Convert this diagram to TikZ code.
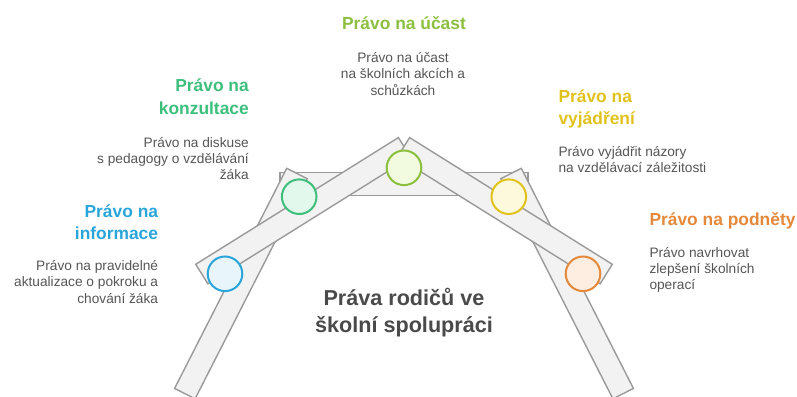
\documentclass[tikz,border=0pt]{standalone}
\usepackage{fontspec}
\setmainfont{Liberation Sans}
\definecolor{beamfill}{HTML}{F2F2F2}
\definecolor{beamline}{HTML}{9A9A9A}
\definecolor{cblue}{HTML}{2AA5DA}
\definecolor{cgreen}{HTML}{3DBF7C}
\definecolor{clime}{HTML}{8CBF3F}
\definecolor{cyellow}{HTML}{E1C21C}
\definecolor{corange}{HTML}{E4883A}
\definecolor{fblue}{HTML}{E8F6FC}
\definecolor{fgreen}{HTML}{E3F8EC}
\definecolor{flime}{HTML}{F2FBE0}
\definecolor{fyellow}{HTML}{FDF9DC}
\definecolor{forange}{HTML}{FDEEE1}
\definecolor{bodygray}{HTML}{555555}
\definecolor{titlegray}{HTML}{4A4A4A}
\tikzset{
  beam/.style={fill=beamfill, draw=beamline, line width=1.4pt, line join=miter},
  dot/.style={circle, minimum size=34.6pt, inner sep=0pt, line width=2pt},
  ttl/.style={font=\fontsize{17.4}{22.5}\selectfont\bfseries, inner sep=0pt},
  body/.style={font=\fontsize{13.7}{16.3}\selectfont, text=bodygray, inner sep=0pt},
}
\begin{document}
\begin{tikzpicture}[x=1pt,y=-1pt]
\useasboundingbox (0,0) rectangle (797,396);
% horizontal beam
\draw[beam] (280,172.5) rectangle (528,195.7);
% steep legs
\draw[beam] (286.7,168.3) -- (307.2,178.7) -- (195.1,398.8) -- (174.6,388.4) -- cycle;
\draw[beam] (521.3,168.3) -- (500.8,178.7) -- (612.9,398.8) -- (633.4,388.4) -- cycle;
% shallow beams
\draw[beam] (195.7,264.3) -- (398.4,137.6) -- (410.6,157.1) -- (207.9,283.8) -- cycle;
\draw[beam] (612.3,264.3) -- (409.6,137.6) -- (397.4,157.1) -- (600.1,283.8) -- cycle;
% circles
\node[dot, draw=cblue, fill=fblue] (cinfo) at (225,273.8) {};
\node[dot, draw=cgreen, fill=fgreen] (ckonz) at (299.2,196.7) {};
\node[dot, draw=clime, fill=flime] (cucast) at (404,167.8) {};
\node[dot, draw=cyellow, fill=fyellow] (cvyj) at (508.8,196.7) {};
\node[dot, draw=corange, fill=forange] (cpodn) at (583,273.8) {};
% center title
\node[font=\fontsize{21.6}{27.7}\selectfont\bfseries, text=titlegray, align=center, inner sep=0pt] (main) at (404,312.5) {Práva rodičů ve\\školní spolupráci};
% titles
\node[ttl, text=cblue, anchor=east, align=right] (tinfo) at (158.3,222) {Právo na\\informace};
\node[ttl, text=cgreen, anchor=east, align=right] (tkonz) at (249,96.7) {Právo na\\konzultace};
\node[ttl, text=clime] (tucast) at (404,22.7) {Právo na účast};
\node[ttl, text=cyellow, anchor=west, align=left] (tvyj) at (558.3,109) {Právo na\\vyjádření};
\node[ttl, text=corange, anchor=west] (tpodn) at (649.3,220.7) {Právo na podněty};
% bodies
\node[body, anchor=east, align=right] (binfo) at (158.3,282) {Právo na pravidelné\\aktualizace o pokroku a\\chování žáka};
\node[body, anchor=east, align=right] (bkonz) at (249,158.5) {Právo na diskuse~\\s pedagogy o vzdělávání\\žáka};
\node[body, align=center] (bucast) at (403,74) {Právo na účast\\na školních akcích a\\schůzkách};
\node[body, anchor=west, align=left] (bvyj) at (558.3,159.3) {Právo vyjádřit názory\\na vzdělávací záležitosti};
\node[body, anchor=west, align=left] (bpodn) at (649.3,270) {Právo navrhovat\\zlepšení školních\\operací};
\end{tikzpicture}
\end{document}
